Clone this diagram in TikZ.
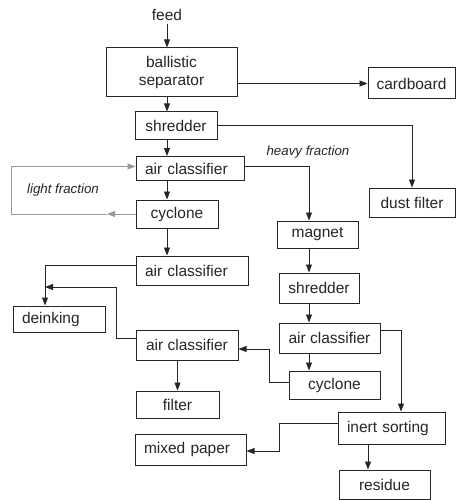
\documentclass[tikz,border=0pt]{standalone}
\usepackage{fontspec}
\setmainfont{Liberation Sans}
\usetikzlibrary{arrows.meta}
\definecolor{ink}{HTML}{262626}
\definecolor{loop}{HTML}{9A9A9A}
\begin{document}
\begin{tikzpicture}[x=1pt,y=-1pt,
  every node/.style={font=\fontsize{15.5pt}{18.5pt}\selectfont, text=ink},
  bx/.style 2 args={draw=ink, line width=1pt, inner sep=0pt,
    minimum width=#1, minimum height=#2, align=center},
  lbx/.style 2 args={draw=ink, line width=1pt, inner ysep=0pt, inner xsep=9pt,
    text width=#1, minimum height=#2, align=left},
  flow/.style={draw=ink, line width=0.9pt, -{Triangle[length=8pt,width=6pt]}},
  flowplain/.style={draw=ink, line width=0.9pt},
  lab/.style={font=\fontsize{13.3pt}{15pt}\selectfont\itshape}]
\useasboundingbox (0,0) rectangle (457,500);
\fill[white] (0,0) rectangle (457,500);

% columns used by the vertical runs
\coordinate (trunk) at (167,0);
\coordinate (rcol) at (309,0);
\coordinate (dcol) at (45,0);
\coordinate (icol) at (401,0);
\coordinate (ccol) at (279,0);
\coordinate (mcol) at (269,0);
\coordinate (scol) at (368,0);

% process boxes
\node (feed) at (167,15) {feed};
\node[bx={131pt}{49pt}] (sep) at (171.5,72.5) {ballistic\\separator};
\node[bx={87pt}{31pt}] (card) at (411.5,83.5) {cardboard};
\node[bx={82pt}{27pt}] (shr1) at (176,125.5) {shredder};
\node[lbx={90pt}{24pt}] (ac1) at (190,168.5) {air classifier};
\node[bx={82pt}{28pt}] (cyc1) at (177,214) {cyclone};
\node[bx={86pt}{29pt}] (dust) at (412,202.5) {dust filter};
\node[bx={81pt}{27pt}] (mag) at (317.5,234.5) {magnet};
\node[lbx={94pt}{29pt}] (ac2) at (192,270.5) {air classifier};
\node[bx={80pt}{30pt}] (shr2) at (319,288) {shredder};
\node[lbx={74pt}{26pt}] (deink) at (59,319) {deinking};
\node[bx={101pt}{30pt}] (ac4) at (329.5,338) {air classifier};
\node[bx={102pt}{30pt}] (ac3) at (187,345) {air classifier};
\node[bx={91pt}{28pt}] (cyc2) at (334.5,385) {cyclone};
\node[bx={83pt}{27pt}] (filt) at (177.5,404.5) {filter};
\node[lbx={89pt}{32pt}] (inert) at (391.5,428) {inert sorting};
\node[lbx={93pt}{31pt}] (mixed) at (190.5,449.5) {mixed paper};
\node[bx={91pt}{29pt}] (res) at (384.5,484.5) {residue};

% stream labels
\node[lab] (heavy) at (308,152) {heavy fraction};
\node[lab] (light) at (63,190) {light fraction};

% main line
\draw[flow] (feed.south -| trunk) -- (sep.north -| trunk);
\draw[flow] (sep.east |- card.west) -- (card.west);
\draw[flow] (sep.south -| trunk) -- (shr1.north -| trunk);
\draw[flow] (shr1.east) -| (dust.north);
\draw[flow] (shr1.south -| trunk) -- (ac1.north -| trunk);
\draw[flow] (ac1.south -| trunk) -- (cyc1.north -| trunk);
\draw[flow] (cyc1.south -| trunk) -- (ac2.north -| trunk);

% light fraction recycled to the first air classifier
\coordinate (ltip) at (107,214);
\coordinate (lcorner) at (11,214);
\draw[draw=loop, line width=0.9pt, -{Triangle[length=8pt,width=6pt]}] (cyc1.west) -- (ltip);
\draw[draw=loop, line width=0.9pt, -{Triangle[length=8pt,width=6pt]}]
  (ltip) -- (lcorner) |- ([yshift=2pt]ac1.west);

% heavy fraction branch
\draw[flow] ([yshift=2pt]ac1.east) -| (mag.north -| rcol);
\draw[flow] (mag.south -| rcol) -- (shr2.north -| rcol);
\draw[flow] (shr2.south -| rcol) -- (ac4.north -| rcol);
\draw[flow] (ac4.south -| rcol) -- (cyc2.north -| rcol);

% paper branch
\draw[flow] ([yshift=5pt]ac2.west) -| (deink.north -| dcol);
\coordinate (ubend) at (116,287);
\coordinate (join) at (45,287);
\draw[flow] ([yshift=7pt]ac3.west) -| (ubend) -- (join);
\draw[flow] ([yshift=3pt]cyc2.west) -| ([yshift=-4pt]mcol |- ac3.east) -- ([yshift=-4pt]ac3.east);
\draw[flow] (filt.north |- ac3.south) -- (filt.north);

% inert sorting
\draw[flow] ([yshift=8pt]ac4.east) -| (inert.north -| icol);
\draw[flow] ([yshift=5pt]inert.west) -| ([yshift=-1.5pt]ccol |- mixed.east) -- ([yshift=-1.5pt]mixed.east);
\draw[flow] (inert.south -| scol) -- (res.north -| scol);
\end{tikzpicture}
\end{document}
